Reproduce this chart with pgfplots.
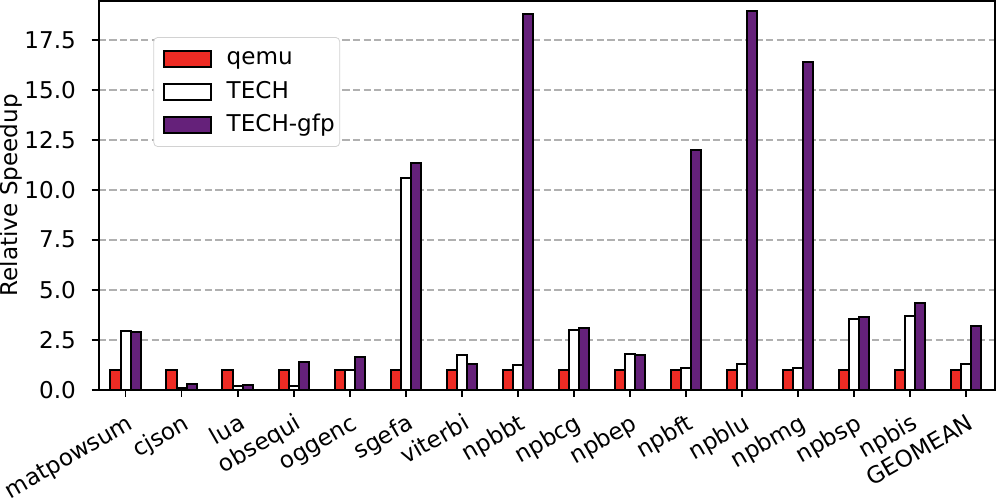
\documentclass[border=0pt]{standalone}
\usepackage{fontspec}
\setmainfont{DejaVu Sans}
\usepackage{pgfplots}
\usepackage{pgfplotstable}
\pgfplotsset{compat=1.18}
\definecolor{qemured}{HTML}{EE2B24}
\definecolor{gfppurple}{HTML}{65217A}
\definecolor{gridgray}{HTML}{B0B0B0}

\pgfplotstableread{
x  qemu tech  gfp
0  1    2.95  2.90
1  1    0.10  0.30
2  1    0.20  0.25
3  1    0.20  1.37
4  1    0.99  1.63
5  1    10.57 11.32
6  1    1.75  1.30
7  1    1.25  18.80
8  1    2.97  3.06
9  1    1.77  1.74
10 1    1.09  12.00
11 1    1.30  18.95
12 1    1.08  16.38
13 1    3.51  3.61
14 1    3.68  4.33
15 1    1.29  3.19
}\speedup

\begin{document}
\fontsize{11.6}{13.9}\selectfont
\begin{tikzpicture}
\begin{axis}[
  width=448.5bp, height=194.5bp, scale only axis,
  xmin=-0.48, xmax=15.52, ymin=0, ymax=19.45,
  axis line style={line width=0.9bp},
  xtick={0,...,15},
  xticklabels={matpowsum,cjson,lua,obsequi,oggenc,sgefa,viterbi,npbbt,npbcg,npbep,npbft,npblu,npbmg,npbsp,npbis,GEOMEAN},
  xticklabel style={yshift=-7.5bp, rotate=30, anchor=north east, inner sep=0pt,
    text height=9bp, text depth=2.7bp},
  ytick={0,2.5,...,17.5},
  yticklabel style={inner sep=0pt, xshift=-7.7bp,
    /pgf/number format/.cd, fixed, fixed zerofill, precision=1, assume math mode=true},
  xtick pos=bottom, ytick pos=left, tick align=outside,
  major tick length=3.5bp,
  tick style={line width=0.9bp, black},
  ymajorgrids,
  grid style={gridgray, line width=0.9bp, dash pattern=on 3.7bp off 1.6bp},
  ylabel={Relative Speedup},
  ylabel style={at={(axis description cs:-0.0847,0.5)}, anchor=south, inner sep=0pt},
  ybar, bar width=0.18,
  every axis plot/.append style={draw=black, line width=1bp},
  legend style={at={(0.061,0.907)}, anchor=north west, draw=gray!35, rounded corners=2bp,
    fill=white, font=\fontsize{11.6}{13.9}\selectfont, inner xsep=0.5bp, inner ysep=3bp,
    row sep=1.5bp, legend cell align=left,
    nodes={text height=8.6bp, text depth=2.6bp, inner ysep=2bp}},
  legend image code/.code={\path (-4bp,0bp) (29bp,0bp);
    \draw[#1, sharp corners, line width=1bp] (0bp,-4bp) rectangle (23.5bp,4bp);},
]
\addplot[fill=qemured, bar shift=-0.18] table[x=x, y=qemu] {\speedup};
\addplot[fill=white, bar shift=0] table[x=x, y=tech] {\speedup};
\addplot[fill=gfppurple, bar shift=0.18] table[x=x, y=gfp] {\speedup};
\legend{qemu, TECH, TECH-gfp}
\end{axis}
\end{tikzpicture}
\end{document}
